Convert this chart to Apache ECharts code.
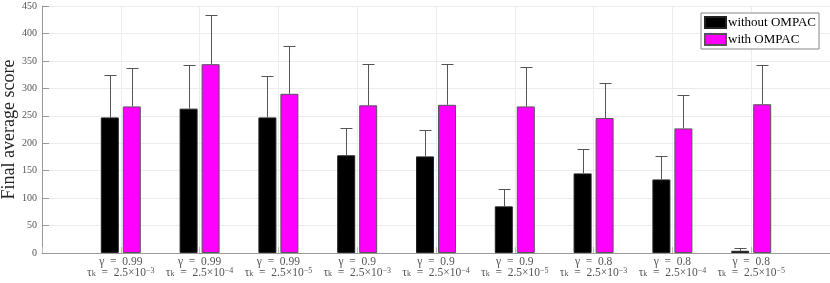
<!DOCTYPE html>
<html>
<head>
<meta charset="utf-8">
<script src="https://cdn.jsdelivr.net/npm/echarts@6/dist/echarts.min.js"></script>
<style>html,body{margin:0;padding:0;background:#fff;}#c{width:830px;height:283px;}</style>
</head>
<body>
<div id="c"></div>
<script>
// Data
var gammaLabels = ['0.99', '0.99', '0.99', '0.9', '0.9', '0.9', '0.8', '0.8', '0.8'];
var tauExponents = ['−3', '−4', '−5', '−3', '−4', '−5', '−3', '−4', '−5'];
var withoutMean = [247, 263, 247, 178, 176, 85, 145, 134, 4];
var withoutUpper = [325, 342, 323, 227, 224, 117, 190, 177, 9];
var withMean = [267, 344, 290, 269, 270, 267, 246, 227, 271];
var withUpper = [337, 433, 377, 344, 345, 338, 309, 287, 342];
var yTicks = [0, 50, 100, 150, 200, 250, 300, 350, 400, 450];

var FONT = '"Liberation Serif", "DejaVu Serif", serif';
var BW = 18, GAP = 4, CAP = 6;

function pts(arr) { return arr.map(function (v, i) { return [i + 1, v]; }); }
function errPts(mean, up) { return mean.map(function (v, i) { return [i + 1, v, up[i]]; }); }

function errSeries(name, data, dir) {
  return {
    type: 'custom',
    name: name + ' err',
    z: 5,
    silent: true,
    data: data,
    encode: { x: 0, y: [1, 2] },
    renderItem: function (params, api) {
      var x = api.value(0);
      var p0 = api.coord([x, api.value(1)]);
      var p1 = api.coord([x, api.value(2)]);
      var off = dir * (BW + GAP) / 2;
      var cx = Math.round(p0[0] + off) + 0.5;
      var yt = Math.round(p1[1]) + 0.5;
      return {
        type: 'group',
        children: [
          { type: 'line', shape: { x1: cx, y1: p0[1], x2: cx, y2: yt }, style: { stroke: '#555', lineWidth: 1 } },
          { type: 'line', shape: { x1: cx - CAP, y1: yt, x2: cx + CAP, y2: yt }, style: { stroke: '#555', lineWidth: 1 } }
        ]
      };
    }
  };
}

var chart = echarts.init(document.getElementById('c'), null, { renderer: 'canvas' });
chart.setOption({
  animation: false,
  backgroundColor: '#fff',
  grid: { left: 42, right: 0, top: 6, bottom: 30, containLabel: false, outerBoundsMode: 'none' },
  legend: {
    left: 701, top: 13, orient: 'vertical',
    data: ['without OMPAC', 'with OMPAC'],
    itemWidth: 21, itemHeight: 11, itemGap: 4,
    padding: [3, 3, 3, 3],
    borderColor: '#888', borderWidth: 1, backgroundColor: '#fff',
    icon: 'rect',
    textStyle: { fontFamily: FONT, fontSize: 13, color: '#000', padding: [0, 0, 0, -3] }
  },
  xAxis: {
    type: 'value', min: 0, max: 10, interval: 1,
    axisLine: { show: true, lineStyle: { color: '#999' } },
    axisTick: { show: true, inside: true, length: 6, lineStyle: { color: '#bbb' } },
    splitLine: { show: true, lineStyle: { color: '#ececec' } },
    axisLabel: {
      margin: 3,
      interval: 0,
      showMinLabel: true, showMaxLabel: true,
      formatter: function (v) {
        var i = Math.round(v) - 1;
        if (i < 0 || i >= gammaLabels.length) return '';
        return '{a|γ  =  ' + gammaLabels[i] + '}\n{b|τ}{s|k}{b|  =  2.5×10}{p|' + tauExponents[i] + '}';
      },
      rich: {
        a: { fontFamily: FONT, fontSize: 11.5, color: '#555', lineHeight: 11 },
        b: { fontFamily: FONT, fontSize: 11.5, color: '#555', lineHeight: 11 },
        s: { fontFamily: FONT, fontSize: 8, color: '#555', lineHeight: 11, verticalAlign: 'bottom' },
        p: { fontFamily: FONT, fontSize: 8, color: '#555', lineHeight: 11, verticalAlign: 'top' }
      }
    }
  },
  yAxis: {
    type: 'value', min: 0, max: 450, interval: 50,
    name: 'Final average score',
    nameLocation: 'middle', nameGap: 24, nameMoveOverlap: false,
    nameTextStyle: { fontFamily: FONT, fontSize: 18, color: '#222' },
    axisLine: { show: true, lineStyle: { color: '#999' } },
    axisTick: { show: true, inside: true, length: 7, lineStyle: { color: '#999' } },
    splitLine: { show: true, lineStyle: { color: '#ececec' } },
    axisLabel: {
      margin: 5, fontFamily: FONT, fontSize: 10, color: '#555',
      formatter: function (v) { return yTicks.indexOf(v) >= 0 ? String(v) : ''; }
    }
  },
  series: [
    {
      type: 'bar', name: 'without OMPAC', data: pts(withoutMean),
      barWidth: BW, barGap: (GAP / BW * 100) + '%',
      itemStyle: { color: '#000', borderColor: '#222', borderWidth: 1 }
    },
    {
      type: 'bar', name: 'with OMPAC', data: pts(withMean),
      barWidth: BW, barGap: (GAP / BW * 100) + '%',
      itemStyle: { color: '#ff00ff', borderColor: '#555', borderWidth: 1 }
    },
    errSeries('without OMPAC', errPts(withoutMean, withoutUpper), -1),
    errSeries('with OMPAC', errPts(withMean, withUpper), 1)
  ]
});
</script>
</body>
</html>
